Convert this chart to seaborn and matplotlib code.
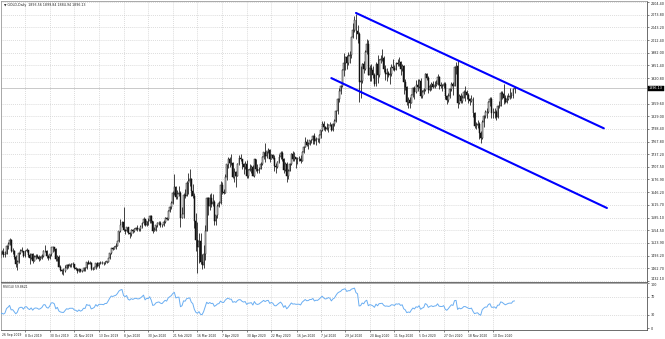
import numpy as np
import pandas as pd
import matplotlib
matplotlib.use("Agg")
import matplotlib.pyplot as plt
import matplotlib.transforms as mtransforms
import seaborn as sns

sns.set_style("white")
plt.rcParams['font.family'] = ['DejaVu Sans']

# ---------------- data (GOLD daily) ----------------
first_date = "2019-08-27"
last_date = "2020-12-31"
holidays = ["2019-12-25", "2020-01-01", "2020-04-10", "2020-12-25", "2021-01-01"]
first_open = 1527.0

close = [
    1542, 1538, 1527, 1520,
    1529, 1547, 1552, 1519, 1507, 1499, 1486, 1497, 1500, 1488, 1498, 1501, 1494, 1498, 1516, 1522, 1531, 1504, 1505, 1490, 1472,
    1479, 1500, 1505, 1505, 1493, 1505, 1506, 1494, 1488, 1496, 1481, 1490, 1492, 1490, 1484, 1487, 1492, 1504, 1505, 1492, 1488, 1496, 1513,
    1514, 1510, 1484, 1491, 1467, 1459, 1456, 1455, 1463, 1471, 1468, 1472, 1472, 1472, 1464, 1462, 1456, 1461, 1455, 1457, 1464,
    1463, 1477, 1474, 1475, 1460, 1462, 1465, 1475, 1469, 1476, 1476, 1476, 1475, 1479, 1479, 1487, 1499, 1511, 1510, 1514, 1517,
    1528, 1552, 1566, 1574, 1556, 1552, 1562, 1548, 1545, 1555, 1552, 1557, 1560, 1558, 1558, 1563, 1571, 1582, 1567, 1577, 1576, 1589,
    1577, 1553, 1556, 1567, 1571, 1573, 1568, 1566, 1575, 1584, 1581, 1601, 1611, 1620, 1643, 1659, 1635, 1642, 1643, 1585,
    1593, 1640, 1637, 1669, 1674, 1679, 1649, 1636, 1576, 1530, 1513, 1528, 1478, 1470, 1498, 1553, 1632, 1612, 1632, 1617, 1622, 1577,
    1591, 1614, 1620, 1663, 1647, 1645, 1683, 1713, 1727, 1716, 1717, 1683, 1694, 1686, 1713, 1729, 1727, 1713, 1706, 1713, 1686,
    1700, 1702, 1706, 1685, 1725, 1703, 1697, 1702, 1715, 1730, 1743, 1734, 1745, 1748, 1725, 1735, 1729, 1710, 1708, 1719, 1730,
    1740, 1727, 1700, 1714, 1684, 1697, 1715, 1737, 1727, 1730, 1726, 1727, 1727, 1722, 1743, 1755, 1768, 1761, 1763, 1772, 1772, 1781,
    1769, 1775, 1774, 1783, 1795, 1810, 1803, 1798, 1801, 1809, 1807, 1796, 1810, 1817, 1842, 1871, 1889, 1902, 1941, 1958, 1971, 1958, 1975,
    1976, 2019, 2038, 2062, 2035, 2028, 1911, 1915, 1954, 1944, 1985, 2003, 1929, 1946, 1940, 1928, 1907, 1954, 1929, 1964, 1968,
    1970, 1944, 1931, 1934, 1929, 1932, 1947, 1946, 1940, 1957, 1954, 1959, 1944, 1950, 1912, 1900, 1863, 1868, 1862, 1881, 1897, 1887,
    1905, 1900, 1914, 1877, 1887, 1893, 1930, 1922, 1892, 1902, 1908, 1900, 1905, 1907, 1924, 1904, 1902, 1902, 1908, 1877, 1868, 1879,
    1894, 1908, 1903, 1948, 1951, 1862, 1877, 1866, 1873, 1888, 1888, 1880, 1871, 1867, 1871, 1837, 1805, 1809, 1811, 1788, 1776,
    1816, 1830, 1840, 1839, 1863, 1871, 1838, 1837, 1840, 1827, 1854, 1854, 1886, 1882, 1872, 1863, 1870, 1876, 1878, 1877, 1893.56, 1896.13,
]
high = [
    1550, 1545, 1540, 1530,
    1532, 1550, 1557, 1553, 1528, 1511, 1501, 1499, 1516, 1506, 1511, 1507, 1512, 1504, 1518, 1526, 1535, 1533, 1512, 1508, 1495,
    1482, 1502, 1510, 1514, 1505, 1508, 1512, 1507, 1500, 1498, 1500, 1495, 1498, 1497, 1494, 1492, 1496, 1506, 1518, 1506, 1495, 1497, 1514,
    1517, 1515, 1511, 1494, 1494, 1470, 1462, 1464, 1470, 1474, 1474, 1474, 1476, 1477, 1474, 1466, 1463, 1463, 1462, 1459, 1466,
    1466, 1479, 1483, 1481, 1478, 1465, 1467, 1476, 1479, 1478, 1481, 1480, 1479, 1481, 1481, 1488, 1500, 1512, 1515, 1516, 1524,
    1529, 1553, 1582, 1576, 1611, 1557, 1563, 1563, 1550, 1558, 1557, 1561, 1563, 1568, 1561, 1568, 1574, 1587, 1582, 1577, 1583, 1590,
    1591, 1577, 1562, 1568, 1574, 1577, 1576, 1570, 1578, 1586, 1586, 1603, 1612, 1624, 1649, 1689, 1661, 1651, 1660, 1650,
    1610, 1643, 1653, 1672, 1692, 1703, 1680, 1665, 1644, 1595, 1575, 1547, 1548, 1497, 1518, 1566, 1635, 1634, 1642, 1643, 1642, 1628,
    1591, 1618, 1626, 1672, 1671, 1653, 1690, 1715, 1731, 1732, 1738, 1719, 1705, 1698, 1716, 1735, 1739, 1727, 1717, 1722, 1723,
    1703, 1715, 1712, 1711, 1726, 1723, 1715, 1707, 1718, 1734, 1744, 1765, 1746, 1753, 1749, 1737, 1738, 1735, 1717, 1721, 1737,
    1745, 1745, 1728, 1718, 1719, 1703, 1717, 1740, 1745, 1744, 1732, 1732, 1733, 1736, 1745, 1757, 1779, 1774, 1768, 1773, 1774, 1785,
    1788, 1780, 1777, 1786, 1797, 1818, 1818, 1806, 1814, 1811, 1816, 1810, 1812, 1823, 1843, 1872, 1898, 1905, 1944, 1981, 1972, 1976, 1984,
    1987, 2021, 2055, 2070, 2075, 2049, 2031, 1949, 1957, 1962, 1989, 2015, 2013, 1952, 1956, 1950, 1933, 1961, 1976, 1968, 1976,
    1992, 1975, 1953, 1945, 1937, 1947, 1955, 1966, 1953, 1961, 1966, 1973, 1963, 1955, 1952, 1918, 1903, 1875, 1875, 1882, 1900, 1902,
    1917, 1918, 1919, 1921, 1893, 1897, 1933, 1934, 1925, 1908, 1912, 1913, 1913, 1917, 1931, 1925, 1911, 1908, 1911, 1911, 1881, 1885,
    1896, 1912, 1911, 1951, 1960, 1965, 1882, 1886, 1881, 1892, 1901, 1892, 1884, 1874, 1880, 1876, 1840, 1815, 1819, 1815, 1793,
    1820, 1833, 1845, 1848, 1865, 1875, 1875, 1848, 1848, 1844, 1857, 1865, 1891, 1889, 1907, 1881, 1881, 1884, 1897, 1888, 1896, 1899.84,
]
low = [
    1525, 1530, 1520, 1514,
    1518, 1526, 1539, 1513, 1504, 1495, 1484, 1485, 1485, 1485, 1488, 1496, 1490, 1491, 1496, 1510, 1518, 1502, 1498, 1486, 1466,
    1459, 1476, 1497, 1502, 1489, 1490, 1502, 1491, 1474, 1485, 1476, 1481, 1486, 1487, 1480, 1482, 1485, 1490, 1502, 1488, 1483, 1484, 1493,
    1503, 1504, 1481, 1480, 1465, 1456, 1449, 1446, 1453, 1461, 1464, 1466, 1467, 1466, 1462, 1459, 1452, 1454, 1453, 1454, 1455,
    1455, 1460, 1472, 1473, 1458, 1458, 1460, 1462, 1465, 1464, 1473, 1474, 1471, 1473, 1475, 1478, 1486, 1498, 1507, 1509, 1510,
    1517, 1525, 1549, 1562, 1553, 1546, 1549, 1546, 1536, 1541, 1548, 1550, 1556, 1553, 1552, 1553, 1560, 1568, 1564, 1565, 1568, 1571,
    1573, 1547, 1552, 1553, 1563, 1568, 1563, 1562, 1564, 1572, 1579, 1580, 1599, 1606, 1618, 1640, 1629, 1630, 1636, 1562,
    1584, 1584, 1632, 1636, 1642, 1660, 1636, 1633, 1560, 1504, 1451, 1475, 1472, 1461, 1463, 1483, 1553, 1590, 1604, 1611, 1614, 1568,
    1568, 1584, 1610, 1617, 1641, 1641, 1647, 1675, 1705, 1708, 1711, 1680, 1670, 1659, 1685, 1711, 1721, 1701, 1690, 1702, 1681,
    1681, 1696, 1692, 1684, 1683, 1698, 1692, 1692, 1702, 1712, 1727, 1720, 1729, 1740, 1718, 1725, 1726, 1698, 1693, 1704, 1716,
    1725, 1721, 1693, 1698, 1670, 1677, 1696, 1712, 1721, 1721, 1704, 1713, 1721, 1716, 1721, 1741, 1754, 1757, 1751, 1759, 1765, 1763,
    1763, 1760, 1768, 1764, 1777, 1794, 1796, 1794, 1797, 1791, 1805, 1794, 1794, 1806, 1815, 1835, 1864, 1882, 1900, 1926, 1940, 1944, 1953,
    1958, 1970, 2018, 2031, 2015, 2006, 1863, 1874, 1910, 1934, 1940, 1979, 1928, 1913, 1913, 1921, 1901, 1902, 1910, 1924, 1958,
    1963, 1935, 1916, 1914, 1923, 1907, 1926, 1941, 1938, 1940, 1950, 1950, 1928, 1937, 1882, 1892, 1856, 1848, 1850, 1860, 1876, 1871,
    1885, 1889, 1897, 1874, 1874, 1882, 1891, 1917, 1886, 1890, 1893, 1897, 1896, 1901, 1905, 1894, 1898, 1891, 1897, 1871, 1859, 1864,
    1872, 1890, 1881, 1902, 1930, 1850, 1858, 1861, 1860, 1873, 1865, 1871, 1862, 1856, 1864, 1828, 1800, 1798, 1800, 1775, 1764,
    1775, 1804, 1826, 1826, 1838, 1853, 1825, 1825, 1826, 1820, 1825, 1848, 1853, 1870, 1858, 1860, 1860, 1868, 1871, 1873, 1874, 1884.94,
]

# price scale labels (right axis) and date labels (bottom axis)
price_ticks = [2104.40, 2073.80, 2043.20, 2012.40, 1982.00, 1951.40, 1920.80, 1859.60,
               1829.00, 1798.40, 1767.80, 1737.20, 1707.50, 1676.90, 1646.20, 1615.70,
               1585.10, 1554.50, 1523.90, 1493.20, 1462.70, 1432.10]
rsi_ticks = [100, 70, 30, 0]
first_label = "26 Sep 2019"
date_ticks = ["2019-10-08", "2019-10-30", "2019-11-21", "2019-12-13", "2020-01-08",
              "2020-01-30", "2020-02-21", "2020-03-16", "2020-04-07", "2020-04-30",
              "2020-05-22", "2020-06-16", "2020-07-07", "2020-07-29", "2020-08-20",
              "2020-09-11", "2020-10-05", "2020-10-27", "2020-11-18", "2020-12-10"]

# hand-drawn channel (two parallel trend lines)
upper_dates = ["2020-08-07", "2021-03-24"]
upper_prices = [2078, 1800]
lower_dates = ["2020-07-16", "2021-03-26"]
lower_prices = [1921, 1608]

header = "\u25BC GOLD,Daily  1893.56 1899.84 1884.94 1896.13"
rsi_header = "RSI(14) 59.8621"

# ---------------- build frame ----------------
hol = pd.to_datetime(holidays)
dates = pd.bdate_range(first_date, last_date)
dates = dates[~dates.isin(hol)]
n = min(len(dates), len(close), len(high), len(low))
dates = dates[:n]
df = pd.DataFrame({"date": dates, "close": np.array(close[:n], float),
                   "high": np.array(high[:n], float), "low": np.array(low[:n], float)})
df["open"] = df["close"].shift(1).fillna(first_open)
df["high"] = df[["high", "open", "close"]].max(axis=1)
df["low"] = df[["low", "open", "close"]].min(axis=1)
df["i"] = np.arange(n)

# calendar extended into the future for trend line endpoints
cal = pd.bdate_range(first_date, "2021-06-30")
cal = cal[~cal.isin(hol)]
pos = {d.strftime("%Y-%m-%d"): k for k, d in enumerate(cal)}

# RSI(14), Wilder smoothing
delta = df["close"].diff()
gain = delta.clip(lower=0)
loss = -delta.clip(upper=0)
ag = gain.ewm(alpha=1 / 14, adjust=False).mean()
al = loss.ewm(alpha=1 / 14, adjust=False).mean()
df["rsi"] = 100 - 100 / (1 + ag / al)

# ---------------- figure ----------------
W, H = 665, 339
fig = plt.figure(figsize=(W / 100, H / 100), dpi=100)
fig.patch.set_facecolor("white")

def frac_rect(x0, y0, x1, y1):
    return [x0 / W, 1 - y1 / H, (x1 - x0) / W, (y1 - y0) / H]

ax = fig.add_axes(frac_rect(1, 1, 647, 282))
axr = fig.add_axes(frac_rect(1, 283, 647, 330), sharex=ax)

# x range: Oct 8 2019 at px 25, Dec 10 2020 at px 493
i_a = pos[date_ticks[0]]
i_b = pos[date_ticks[-1]]
ppb = (493 - 25) / (i_b - i_a)
xl = i_a - (25 - 1) / ppb
xr = i_b + (647 - 493) / ppb
ax.set_xlim(xl, xr)

# y range for price: 2104.40 at px 2, 1432.10 at px 281 (axes spans px 1..282)
ppu = (281 - 2) / (price_ticks[0] - price_ticks[-1])
ax.set_ylim(price_ticks[-1] - 1 / ppu, price_ticks[0] + 1 / ppu)

grid_kw = dict(color="#c9c9c9", lw=0.5, ls=(0, (1.2, 1.6)), zorder=0)
tick_pos = [pos[d] for d in date_ticks]
for a in (ax, axr):
    for t in tick_pos:
        a.axvline(t, **grid_kw)
for p in price_ticks:
    ax.axhline(p, **grid_kw)

# bid line
ax.axhline(df["close"].iloc[-1], color="#b4b4b4", lw=0.5, zorder=1)

# candles
up = df["close"] >= df["open"]
ax.vlines(df["i"], df["low"], df["high"], color="#111111", lw=0.55, zorder=3)
body_h = (df["close"] - df["open"]).abs().clip(lower=0.6)
body_b = df[["open", "close"]].min(axis=1)
ax.bar(df["i"][up], body_h[up], bottom=body_b[up], width=0.62,
       color="white", edgecolor="#111111", lw=0.35, zorder=4)
ax.bar(df["i"][~up], body_h[~up], bottom=body_b[~up], width=0.62,
       color="#111111", edgecolor="#111111", lw=0.35, zorder=4)

# channel lines
chan = pd.DataFrame({
    "x": [pos[d] for d in upper_dates] + [pos[d] for d in lower_dates],
    "y": upper_prices + lower_prices,
    "line": ["upper", "upper", "lower", "lower"],
})
sns.lineplot(data=chan, x="x", y="y", units="line", estimator=None,
             color="#0000ff", lw=1.5, ax=ax, zorder=5, legend=False)

# right price axis
ax.yaxis.tick_right()
ax.set_yticks(price_ticks)
ax.set_yticklabels([f"{p:.2f}" for p in price_ticks])
ax.tick_params(axis="y", right=True, length=1.5, width=0.4, pad=1,
               labelsize=2.4, colors="#222222")
ax.get_yticklabels()[-1].set_va("bottom")
ax.get_yticklabels()[0].set_va("top")
ax.tick_params(axis="x", bottom=False, labelbottom=False)
ax.set_xlabel("")
ax.set_ylabel("")

# current price marker
trans = mtransforms.blended_transform_factory(ax.transAxes, ax.transData)
ax.text(1.003, df["close"].iloc[-1], f"{df['close'].iloc[-1]:.2f}", transform=trans,
        ha="left", va="center", fontsize=2.4, color="white", zorder=10,
        bbox=dict(boxstyle="square,pad=0.25", fc="black", ec="black", lw=0.3),
        clip_on=False)

ax.text(3 / 646, 1 - 4 / 281, header, transform=ax.transAxes, ha="left", va="center",
        fontsize=2.3, color="#222222")

# RSI panel
sns.lineplot(x=df["i"].values, y=df["rsi"].values, color="#6aaef2", lw=0.7,
             ax=axr, zorder=3)
rsi_ppu = (328 - 283.3) / 100
axr.set_ylim(100 + 0.3 / rsi_ppu - 47 / rsi_ppu, 100 + 0.3 / rsi_ppu)
for lv in (70, 30):
    axr.axhline(lv, **grid_kw)
axr.yaxis.tick_right()
axr.set_yticks(rsi_ticks)
axr.set_yticklabels([str(v) for v in rsi_ticks])
axr.tick_params(axis="y", right=True, length=1.5, width=0.4, pad=1,
                labelsize=2.4, colors="#222222")
axr.get_yticklabels()[0].set_va("top")
axr.set_xticks(tick_pos)
axr.set_xticklabels([pd.Timestamp(d).strftime("%-d %b %Y") for d in date_ticks],
                    ha="left")
axr.tick_params(axis="x", bottom=True, length=1.5, width=0.4, pad=1.2,
                labelsize=2.2, colors="#222222")
axr.text(xl + 0.8, -0.07, first_label, transform=mtransforms.blended_transform_factory(
    axr.transData, axr.transAxes), ha="left", va="top", fontsize=2.2, color="#222222")
axr.text(2 / 646, 1 - 4 / 47, rsi_header, transform=axr.transAxes, ha="left",
         va="center", fontsize=2.2, color="#222222")
axr.set_xlabel("")
axr.set_ylabel("")
axr.set_xlim(xl, xr)

for a in (ax, axr):
    for s in a.spines.values():
        s.set_color("#555555")
        s.set_linewidth(0.6)
    a.set_facecolor("white")
for s in ("left", "top"):
    ax.spines[s].set_color("#9a9a9a")
    axr.spines[s].set_color("#9a9a9a")

fig.savefig("out.png", dpi=100, facecolor="white")
